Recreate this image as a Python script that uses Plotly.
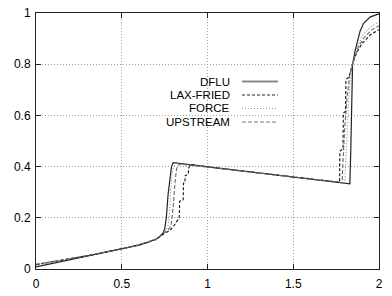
import plotly.graph_objects as go

# ---- data ----
dflu_x = [0, 0.1, 0.2, 0.3, 0.4, 0.5, 0.6, 0.65, 0.7, 0.72, 0.74, 0.75, 0.76, 0.77, 0.78, 0.79, 0.80,
          1.0, 1.2, 1.4, 1.6, 1.83, 1.835, 1.84, 1.846, 1.86, 1.87, 1.89, 1.91, 1.95, 2.0]
dflu_y = [0.008, 0.022, 0.036, 0.05, 0.063, 0.077, 0.093, 0.104, 0.117, 0.126, 0.14, 0.155, 0.2, 0.29, 0.36, 0.40, 0.415,
          0.399, 0.383, 0.367, 0.351, 0.333, 0.45, 0.62, 0.80, 0.85, 0.88, 0.93, 0.96, 0.985, 0.997]

lax_x = [0, 0.1, 0.2, 0.3, 0.4, 0.5, 0.6, 0.7, 0.75, 0.78, 0.80, 0.82, 0.835, 0.838, 0.858, 0.86, 0.868, 0.87,
         0.888, 0.89, 0.90, 0.91, 1.0, 1.2, 1.4, 1.6, 1.77, 1.772, 1.79, 1.792, 1.805, 1.807, 1.825, 1.845,
         1.87, 1.9, 1.95, 2.0]
lax_y = [0.017, 0.028, 0.04, 0.052, 0.065, 0.078, 0.094, 0.115, 0.14, 0.15, 0.165, 0.185, 0.2, 0.265, 0.27, 0.335, 0.337, 0.365,
         0.37, 0.395, 0.405, 0.408, 0.399, 0.383, 0.367, 0.351, 0.339, 0.46, 0.47, 0.61, 0.615, 0.74, 0.75, 0.80,
         0.845, 0.88, 0.915, 0.935]

force_x = [0, 0.1, 0.2, 0.3, 0.4, 0.5, 0.6, 0.7, 0.75, 0.77, 0.78, 0.785, 0.797, 0.81, 1.0, 1.2, 1.4, 1.6,
           1.8, 1.805, 1.81, 1.82, 1.83, 1.845, 1.87, 1.9, 1.95, 2.0]
force_y = [0.015, 0.027, 0.039, 0.052, 0.065, 0.078, 0.094, 0.116, 0.145, 0.17, 0.22, 0.31, 0.387, 0.413, 0.399, 0.383, 0.367, 0.351,
           0.336, 0.40, 0.50, 0.62, 0.72, 0.80, 0.86, 0.91, 0.945, 0.965]

up_x = [0, 0.1, 0.2, 0.3, 0.4, 0.5, 0.6, 0.7, 0.75, 0.78, 0.79, 0.80, 0.81, 0.82, 0.836, 1.0, 1.2, 1.4, 1.6,
        1.785, 1.79, 1.80, 1.815, 1.83, 1.845, 1.88, 1.92, 1.96, 2.0]
up_y = [0.018, 0.029, 0.041, 0.053, 0.066, 0.079, 0.095, 0.116, 0.142, 0.16, 0.18, 0.243, 0.335, 0.393, 0.41, 0.399, 0.383, 0.367, 0.351,
        0.338, 0.42, 0.55, 0.68, 0.76, 0.80, 0.87, 0.91, 0.935, 0.95]

series_names = ["DFLU", "LAX-FRIED", "FORCE", "UPSTREAM"]
x_ticks = [0, 0.5, 1, 1.5, 2]
x_tick_text = ["0", "0.5", "1", "1.5", "2"]
y_ticks = [0, 0.2, 0.4, 0.6, 0.8, 1]
y_tick_text = ["0", "0.2", "0.4", "0.6", "0.8", "1"]

styles = [
    dict(color="#222222", width=1.2, dash="solid"),
    dict(color="#111111", width=1.1, dash="3px,2px"),
    dict(color="#8a8a8a", width=1.1, dash="1px,2px"),
    dict(color="#666666", width=1.1, dash="4px,2px"),
]
legend_colors = ["#888888", "#222222", "#999999", "#777777"]
legend_widths = [2, 1.2, 1.2, 1.2]

fig = go.Figure()
for (xs, ys), name, st in zip([(dflu_x, dflu_y), (lax_x, lax_y), (force_x, force_y), (up_x, up_y)],
                              series_names, styles):
    fig.add_trace(go.Scatter(x=xs, y=ys, mode="lines", name=name, line=st, showlegend=False))

# gnuplot-style key: text right-aligned, sample to the right
rows = [0.7324, 0.6797, 0.6270, 0.5742]
for name, ry, st, lc, lw in zip(series_names, rows, styles, legend_colors, legend_widths):
    fig.add_annotation(x=0.5685, y=ry, xref="paper", yref="paper", text=name, showarrow=False,
                       xanchor="right", yanchor="middle", borderpad=0,
                       font=dict(family="Liberation Sans, Arial", size=11.5, color="black"))
    fig.add_shape(type="line", xref="paper", yref="paper", x0=0.6006, x1=0.7055, y0=ry, y1=ry,
                  line=dict(color=lc, width=lw, dash=st["dash"]))

axis_common = dict(showgrid=True, gridcolor="#a0a0a0", griddash="1px,2px", gridwidth=1,
                   zeroline=False, showline=True, linecolor="#222222", linewidth=1, mirror="ticks",
                   ticks="inside", ticklen=5, tickcolor="#222222", automargin=False,
                   tickfont=dict(family="Liberation Sans, Arial", size=12, color="black"))

fig.update_xaxes(range=[0, 2], tickvals=x_ticks, ticktext=x_tick_text, ticklabelstandoff=4, **axis_common)
fig.update_yaxes(range=[0, 1], tickvals=y_ticks, ticktext=y_tick_text, ticklabelstandoff=2, **axis_common)

fig.update_layout(width=392, height=296, autosize=False,
                  margin=dict(l=36, r=13, t=13, b=27),
                  plot_bgcolor="white", paper_bgcolor="white")

fig.write_html("out.html", config={"displayModeBar": False},
               post_script="document.body.style.margin='0';document.body.style.padding='0';"
                           "document.body.style.overflow='hidden';"
                           "document.documentElement.style.overflow='hidden';")
